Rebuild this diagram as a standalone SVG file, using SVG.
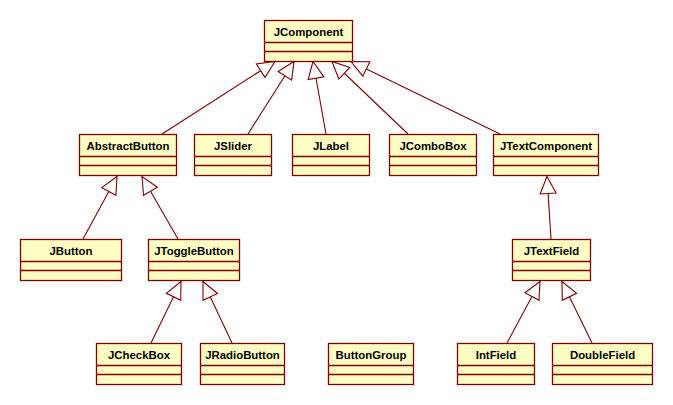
<svg xmlns="http://www.w3.org/2000/svg" width="673" height="405" viewBox="0 0 673 405">
<style>
.box{fill:#ffffc4;stroke:#800000;stroke-width:1.3}
.div{stroke:#800000;stroke-width:1.3}
.lbl{font-family:"Liberation Sans",Arial,sans-serif;font-weight:bold;font-size:11.4px;fill:#000;text-anchor:middle}
.gen{stroke:#800000;stroke-width:1.1;fill:none;marker-end:url(#tri)}
</style>
<defs>
<marker id="tri" markerUnits="userSpaceOnUse" markerWidth="20" markerHeight="20" viewBox="-18 -10 20 20" refX="0" refY="0" orient="auto">
<path d="M0,0 L-17,-8 L-17,8 Z" fill="#fff" stroke="#800000" stroke-width="1.1"/>
</marker>
</defs>
<rect width="673" height="405" fill="#fff"/>
<g id="connectors">
<line class="gen" x1="162" y1="134" x2="275" y2="61.5"/>
<line class="gen" x1="248" y1="134" x2="294" y2="61.5"/>
<line class="gen" x1="326" y1="134" x2="313" y2="61.5"/>
<line class="gen" x1="408" y1="134" x2="332" y2="61.5"/>
<line class="gen" x1="500" y1="134" x2="351" y2="61.5"/>
<line class="gen" x1="83" y1="239" x2="117" y2="176.5"/>
<line class="gen" x1="178" y1="239" x2="142" y2="176.5"/>
<line class="gen" x1="151" y1="343" x2="181" y2="281.5"/>
<line class="gen" x1="232" y1="343" x2="203" y2="281.5"/>
<line class="gen" x1="551" y1="239" x2="547" y2="176.5"/>
<line class="gen" x1="507" y1="343" x2="540" y2="281.5"/>
<line class="gen" x1="592" y1="343" x2="562" y2="281.5"/>
</g>
<g id="JComponent"><rect class="box" x="264.5" y="20.5" width="88" height="41"/><line class="div" x1="264.5" y1="42.5" x2="352.5" y2="42.5"/><line class="div" x1="264.5" y1="51.5" x2="352.5" y2="51.5"/><text class="lbl" x="308.5" y="35.5">JComponent</text></g>
<g id="AbstractButton"><rect class="box" x="79.5" y="134.5" width="97" height="41"/><line class="div" x1="79.5" y1="156.5" x2="176.5" y2="156.5"/><line class="div" x1="79.5" y1="165.5" x2="176.5" y2="165.5"/><text class="lbl" x="128" y="149.5">AbstractButton</text></g>
<g id="JSlider"><rect class="box" x="194.5" y="134.5" width="77" height="41"/><line class="div" x1="194.5" y1="156.5" x2="271.5" y2="156.5"/><line class="div" x1="194.5" y1="165.5" x2="271.5" y2="165.5"/><text class="lbl" x="233" y="149.5">JSlider</text></g>
<g id="JLabel"><rect class="box" x="292.5" y="134.5" width="77" height="41"/><line class="div" x1="292.5" y1="156.5" x2="369.5" y2="156.5"/><line class="div" x1="292.5" y1="165.5" x2="369.5" y2="165.5"/><text class="lbl" x="331" y="149.5">JLabel</text></g>
<g id="JComboBox"><rect class="box" x="389.5" y="134.5" width="87" height="41"/><line class="div" x1="389.5" y1="156.5" x2="476.5" y2="156.5"/><line class="div" x1="389.5" y1="165.5" x2="476.5" y2="165.5"/><text class="lbl" x="433" y="149.5">JComboBox</text></g>
<g id="JTextComponent"><rect class="box" x="493.5" y="134.5" width="105" height="41"/><line class="div" x1="493.5" y1="156.5" x2="598.5" y2="156.5"/><line class="div" x1="493.5" y1="165.5" x2="598.5" y2="165.5"/><text class="lbl" x="546" y="149.5">JTextComponent</text></g>
<g id="JButton"><rect class="box" x="20.5" y="239.5" width="101" height="41"/><line class="div" x1="20.5" y1="261.5" x2="121.5" y2="261.5"/><line class="div" x1="20.5" y1="270.5" x2="121.5" y2="270.5"/><text class="lbl" x="71" y="254.5">JButton</text></g>
<g id="JToggleButton"><rect class="box" x="148.5" y="239.5" width="91" height="41"/><line class="div" x1="148.5" y1="261.5" x2="239.5" y2="261.5"/><line class="div" x1="148.5" y1="270.5" x2="239.5" y2="270.5"/><text class="lbl" x="194" y="254.5">JToggleButton</text></g>
<g id="JTextField"><rect class="box" x="512.5" y="239.5" width="78" height="41"/><line class="div" x1="512.5" y1="261.5" x2="590.5" y2="261.5"/><line class="div" x1="512.5" y1="270.5" x2="590.5" y2="270.5"/><text class="lbl" x="551.5" y="254.5">JTextField</text></g>
<g id="JCheckBox"><rect class="box" x="96.5" y="343.5" width="85" height="41"/><line class="div" x1="96.5" y1="365.5" x2="181.5" y2="365.5"/><line class="div" x1="96.5" y1="374.5" x2="181.5" y2="374.5"/><text class="lbl" x="139" y="358.5">JCheckBox</text></g>
<g id="JRadioButton"><rect class="box" x="200.5" y="343.5" width="84" height="41"/><line class="div" x1="200.5" y1="365.5" x2="284.5" y2="365.5"/><line class="div" x1="200.5" y1="374.5" x2="284.5" y2="374.5"/><text class="lbl" x="242.5" y="358.5">JRadioButton</text></g>
<g id="ButtonGroup"><rect class="box" x="328.5" y="343.5" width="85" height="41"/><line class="div" x1="328.5" y1="365.5" x2="413.5" y2="365.5"/><line class="div" x1="328.5" y1="374.5" x2="413.5" y2="374.5"/><text class="lbl" x="371" y="358.5">ButtonGroup</text></g>
<g id="IntField"><rect class="box" x="457.5" y="343.5" width="77" height="41"/><line class="div" x1="457.5" y1="365.5" x2="534.5" y2="365.5"/><line class="div" x1="457.5" y1="374.5" x2="534.5" y2="374.5"/><text class="lbl" x="496" y="358.5">IntField</text></g>
<g id="DoubleField"><rect class="box" x="552.5" y="343.5" width="100" height="41"/><line class="div" x1="552.5" y1="365.5" x2="652.5" y2="365.5"/><line class="div" x1="552.5" y1="374.5" x2="652.5" y2="374.5"/><text class="lbl" x="602.5" y="358.5">DoubleField</text></g>
</svg>
